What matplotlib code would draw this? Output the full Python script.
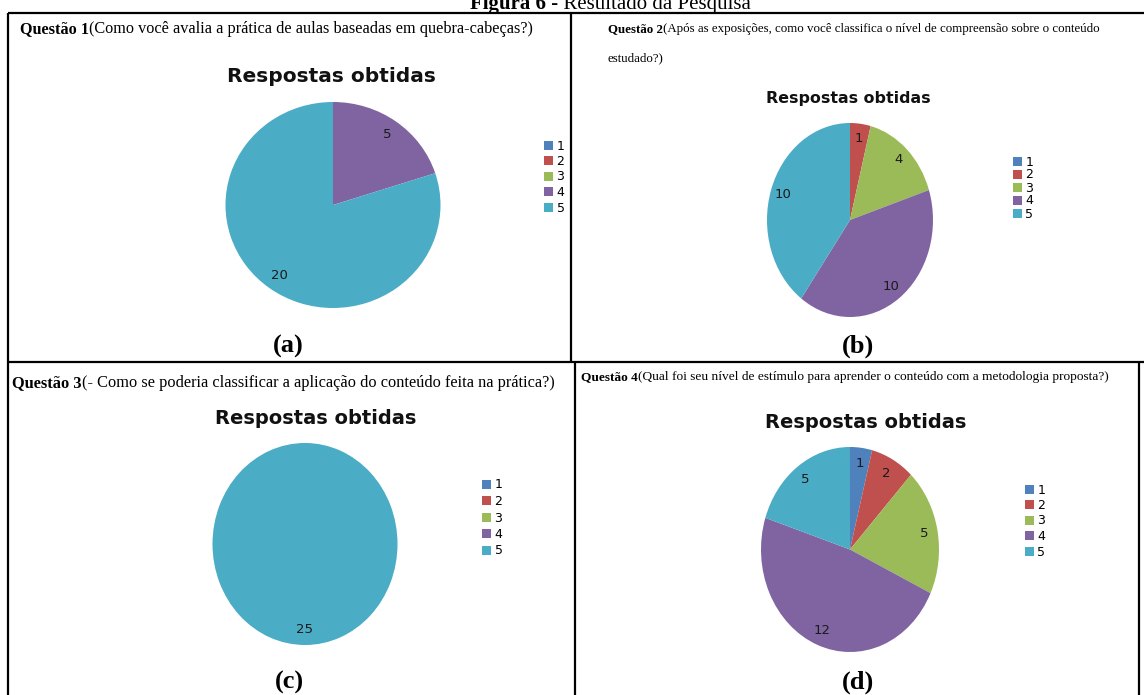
import matplotlib.pyplot as plt
import numpy as np

W, H = 1144, 695

# answer scale 1..5 and how many students picked each option
categories = ['1', '2', '3', '4', '5']
colors = ['#4f81bd', '#c0504d', '#9bbb59', '#8064a2', '#4bacc6']

q1_values = [0, 0, 0, 5, 20]
q2_values = [0, 1, 4, 10, 10]
q3_values = [0, 0, 0, 0, 25]
q4_values = [1, 2, 5, 12, 5]

q1_text = '(Como você avalia a prática de aulas baseadas em quebra-cabeças?)'
q2_text = '(Após as exposições, como você classifica o nível de compreensão sobre o conteúdo'
q2_text_2 = 'estudado?)'
q3_text = '(- Como se poderia classificar a aplicação do conteúdo feita na prática?)'
q4_text = '(Qual foi seu nível de estímulo para aprender o conteúdo com a metodologia proposta?)'

chart_title = 'Respostas obtidas'
SERIF = 'Liberation Serif'


def question(bg, x, y, number, body, size):
    head = bg.text(x, y, 'Questão %d' % number, fontfamily=SERIF, fontweight='bold',
                   fontsize=size, va='bottom', ha='left')
    bg.annotate(body, xy=(1, 0), xycoords=head, fontfamily=SERIF, fontsize=size,
                va='bottom', ha='left')


def draw_pie(fig, bg, values, center, radii, title_pos, title_size, legend_pos, spacing):
    cx, cy = center
    rx, ry = radii
    ax = fig.add_axes([(cx - rx) / W, 1 - (cy + ry) / H, 2 * rx / W, 2 * ry / H])
    wedges, _ = ax.pie(values, colors=colors, startangle=90, counterclock=False,
                       wedgeprops=dict(linewidth=0))
    ax.set_aspect('auto')
    ax.set_xlim(-1, 1)
    ax.set_ylim(-1, 1)
    for w, v in zip(wedges, values):
        if v == 0:
            continue
        mid = np.deg2rad((w.theta1 + w.theta2) / 2)
        ax.text(0.85 * np.cos(mid), 0.85 * np.sin(mid), str(v), ha='center', va='center',
                fontsize=9.5, color='#1a1a1a')
    bg.text(title_pos[0], title_pos[1], chart_title, fontweight='bold', fontsize=title_size,
            ha='center', va='center', color='#111111')
    ax.legend(wedges, categories, loc='center left', bbox_to_anchor=legend_pos,
              bbox_transform=bg.transData, frameon=False, fontsize=9,
              handlelength=0.7, handleheight=0.7, handletextpad=0.3,
              labelspacing=spacing, borderpad=0, borderaxespad=0)
    return ax


fig = plt.figure(figsize=(W / 100, H / 100), dpi=100)
bg = fig.add_axes([0, 0, 1, 1])
bg.set_xlim(0, W)
bg.set_ylim(H, 0)
bg.axis('off')

# table grid
line = dict(color='black', lw=1.6, solid_capstyle='butt')
bg.plot([8, W], [13, 13], **line)
bg.plot([8, W], [362, 362], **line)
bg.plot([8, 8], [13, H], **line)
bg.plot([571, 571], [13, 362], **line)
bg.plot([575, 575], [362, H], **line)
bg.plot([1139, 1139], [362, H], **line)

# figure caption, partly cut by the page edge
cap = bg.text(470, 14, 'Figura 6', fontfamily=SERIF, fontweight='bold', fontsize=15,
              ha='left', va='bottom')
bg.annotate(' - Resultado da Pesquisa', xy=(1, 0), xycoords=cap, fontfamily=SERIF,
            fontsize=15, ha='left', va='bottom')

question(bg, 20, 37, 1, q1_text, 11.7)
question(bg, 608, 35, 2, q2_text, 9.3)
bg.text(608, 64, q2_text_2, fontfamily=SERIF, fontsize=9.3, va='bottom', ha='left')
question(bg, 12, 391, 3, q3_text, 11.8)
question(bg, 581, 383, 4, q4_text, 9.6)

draw_pie(fig, bg, q1_values, (333, 205), (107.5, 103), (331, 76), 14.5, (544, 177), 0.2)
draw_pie(fig, bg, q2_values, (850, 220), (83, 97), (848, 99), 11.4, (1013, 188), 0.0)
draw_pie(fig, bg, q3_values, (305, 544), (92.5, 101), (316, 418), 14, (482, 518), 0.28)
draw_pie(fig, bg, q4_values, (850, 549.5), (89, 102.5), (866, 423), 14, (1025, 521), 0.2)

tag = dict(fontfamily=SERIF, fontweight='bold', fontsize=19, ha='center', va='center')
bg.text(288, 346, '(a)', **tag)
bg.text(858, 346, '(b)', **tag)
bg.text(289, 682, '(c)', **tag)
bg.text(858, 682, '(d)', **tag)

fig.savefig('out.png', dpi=100)
